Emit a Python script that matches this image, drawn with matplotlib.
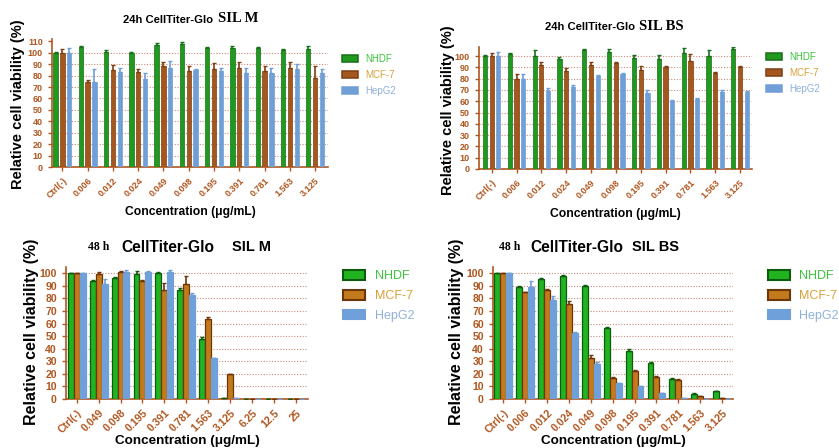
import numpy as np
import matplotlib.pyplot as plt
from matplotlib.patches import Patch

plt.rcParams['font.family'] = ['Liberation Sans', 'DejaVu Sans']

cats_a = ['Ctrl(-)', '0.006', '0.012', '0.024', '0.049', '0.098', '0.195', '0.391', '0.781', '1.563', '3.125']
cats_m48 = ['Ctrl(-)', '0.049', '0.098', '0.195', '0.391', '0.781', '1.563', '3.125', '6.25', '12.5', '25']

# 24h SIL M
nhdf_24m = [100, 105, 101, 100, 107, 108, 104, 104, 104, 102, 103]
nhdf_24m_sd = [1, 1, 1, 1, 1.5, 1, 1, 1.5, 1, 1, 3]
mcf_24m = [100, 74, 85, 83, 88, 84, 86, 87, 84, 87, 78]
mcf_24m_sd = [3, 2, 4, 3, 4, 4, 5, 5, 4, 5, 10]
hep_24m = [100, 74, 83, 77, 87, 85, 84, 82, 82, 86, 82]
hep_24m_sd = [4, 12, 4, 5, 6, 1, 3, 5, 5, 4, 4]

# 24h SIL BS
nhdf_24b = [100, 102, 100, 97, 105, 104, 98, 97, 103, 100, 106]
nhdf_24b_sd = [1, 1, 5, 2, 1, 2, 3, 4, 4, 5, 2]
mcf_24b = [100, 80, 92, 87, 92, 94, 88, 90, 96, 85, 90]
mcf_24b_sd = [3, 4, 3, 2, 3, 1, 3, 1, 6, 1, 1]
hep_24b = [100, 80, 69, 73, 82, 84, 67, 60, 62, 68, 68]
hep_24b_sd = [4, 4, 3, 1, 1, 1, 3, 1, 1, 2, 1]

# 48h SIL M
nhdf_48m = [100, 94, 96, 99.5, 100, 87, 48, 0.5, 0.3, 0.3, 0.3]
nhdf_48m_sd = [0, 1, 1, 2, 1, 1, 1, 0, 0, 0, 0]
mcf_48m = [100, 99.5, 101, 94, 87, 91.5, 64, 19.5, 0.3, 0.3, 0.3]
mcf_48m_sd = [0, 1.5, 1, 1, 5, 6.5, 1.5, 0.5, 0, 0, 0]
hep_48m = [100, 91.5, 101, 101, 101, 83, 32.5, 0.5, 0.3, 0.3, 0.3]
hep_48m_sd = [0, 4, 1.5, 1, 1.5, 1, 0, 0, 0, 0, 0]

# 48h SIL BS
nhdf_48b = [100, 89, 95.5, 97.5, 90, 56.5, 38.5, 28.5, 16, 4, 6]
nhdf_48b_sd = [0, 1, 1, 1, 1, 1, 1, 1, 1, 0.5, 0.5]
mcf_48b = [100, 85, 87, 75.5, 33, 17, 22.5, 17.8, 15, 2, 0.8]
mcf_48b_sd = [0, 0.5, 0.5, 2.5, 2, 0.5, 0.5, 0.8, 0.8, 0.5, 0]
hep_48b = [100, 89, 79, 52.5, 28, 12.5, 10, 4.5, 0.5, 0.3, 0.2]
hep_48b_sd = [0, 4.5, 3, 0.5, 1.5, 0, 0, 0, 0, 0, 0]

labels = ['NHDF', 'MCF-7', 'HepG2']
axcol = '#b0561f'
legtxt = ['#3cc43c', '#d9a03a', '#8fb0dc']

top_style = dict(width=0.17, fill=['#1f9a1f', '#a4581e', '#6f9fd6'], edge=['#176f17', '#7d3f12', '#6f9fd6'], lw=0.5)
bot_style = dict(width=0.27, fill=['#20b420', '#c27a1c', '#6fa0da'], edge=['#0e5a0e', '#6e3508', '#6fa0da'], lw=0.9)


def panel(ax, cats, vals, sds, st, ymax, tsize, tlsize):
    x = np.arange(len(cats))
    offs = [-0.27, 0, 0.27]
    for i in range(3):
        ax.bar(x + offs[i], vals[i], st['width'], color=st['fill'][i],
               edgecolor=st['edge'][i], linewidth=st['lw'], zorder=3)
        ax.errorbar(x + offs[i], vals[i], yerr=[np.zeros(len(cats)), sds[i]], fmt='none',
                    ecolor=st['edge'][i] if i < 2 else '#6f9fd6', elinewidth=1.2, capsize=1.5, zorder=4)
    for g in range(10, 101, 10):
        ax.axhline(g, color='#c98a7a', linestyle=(0, (1, 1.5)), linewidth=0.8, zorder=1)
    ax.set_ylim(0, ymax)
    ax.set_yticks(range(0, 101, 10))
    ax.set_xticks(x)
    ax.set_xticklabels(cats, rotation=45, ha='right', rotation_mode='anchor')
    for s in ['top', 'right']:
        ax.spines[s].set_visible(False)
    for s in ['left', 'bottom']:
        ax.spines[s].set_color(axcol)
        ax.spines[s].set_linewidth(1.2)
    ax.tick_params(colors=axcol, width=1, length=3, labelsize=tlsize)
    for t in ax.get_xticklabels() + ax.get_yticklabels():
        t.set_fontweight('bold')
        t.set_color(axcol)
    ax.set_ylabel('Relative cell viability (%)', fontsize=tsize, fontweight='bold')
    ax.set_xlabel('Concentration (μg/mL)', fontsize=tsize - 1.8, fontweight='bold')


def legend(ax, st, anchor, fsize, hl, hh):
    h = [Patch(facecolor=st['fill'][i], edgecolor=st['edge'][i], linewidth=st['lw'] + 0.6) for i in range(3)]
    lg = ax.legend(h, labels, loc='upper left', bbox_to_anchor=anchor, frameon=False, fontsize=fsize,
                   handlelength=hl, handleheight=hh, labelspacing=0.6)
    for t, c in zip(lg.get_texts(), legtxt):
        t.set_color(c)


fig = plt.figure(figsize=(8.39, 4.48), dpi=100)

ax1 = fig.add_axes([52 / 839, 1 - 167 / 448, 276 / 839, 128 / 448])
panel(ax1, cats_a, [nhdf_24m, mcf_24m, hep_24m], [nhdf_24m_sd, mcf_24m_sd, hep_24m_sd], top_style, 112, 10.5, 6.5)
ax1.set_yticks(range(0, 111, 10))
ax1.set_xlim(-0.41, 10.51)
ax1.yaxis.set_label_coords(-0.098, 0.49)
legend(ax1, top_style, (1.02, 0.95), 7, 1.6, 0.7)

ax2 = fig.add_axes([479 / 839, 1 - 169 / 448, 273 / 839, 122 / 448])
panel(ax2, cats_a, [nhdf_24b, mcf_24b, hep_24b], [nhdf_24b_sd, mcf_24b_sd, hep_24b_sd], top_style, 108, 10.5, 6.5)
ax2.set_xlim(-0.51, 10.48)
ax2.yaxis.set_label_coords(-0.088, 0.48)
legend(ax2, top_style, (1.02, 1.03), 7, 1.6, 0.7)

ax3 = fig.add_axes([66 / 839, 1 - 399 / 448, 242 / 839, 132 / 448])
panel(ax3, cats_m48, [nhdf_48m, mcf_48m, hep_48m], [nhdf_48m_sd, mcf_48m_sd, hep_48m_sd], bot_style, 105, 11.5, 7.6)
ax3.set_xlim(-0.49, 10.56)
ax3.xaxis.set_label_coords(0.5, -0.27)
ax3.yaxis.set_label_coords(-0.11, 0.51)
legend(ax3, bot_style, (1.1, 1.06), 9, 1.7, 0.8)

ax4 = fig.add_axes([493 / 839, 1 - 399 / 448, 240 / 839, 132 / 448])
panel(ax4, cats_a, [nhdf_48b, mcf_48b, hep_48b], [nhdf_48b_sd, mcf_48b_sd, hep_48b_sd], bot_style, 105, 11.5, 7.6)
ax4.set_xlim(-0.47, 10.5)
ax4.xaxis.set_label_coords(0.5, -0.27)
ax4.yaxis.set_label_coords(-0.12, 0.51)
legend(ax4, bot_style, (1.1, 1.06), 9, 1.7, 0.8)

# titles: sans + serif pieces
fig.text(123 / 839, 1 - 20 / 448, '24h CellTiter-Glo', ha='left', va='center', fontsize=8.1, fontweight='bold')
fig.text(218 / 839, 1 - 19 / 448, 'SIL M', ha='left', va='center', fontsize=10.5, fontweight='bold', family='Liberation Serif')
fig.text(545 / 839, 1 - 27 / 448, '24h CellTiter-Glo', ha='left', va='center', fontsize=8.1, fontweight='bold')
fig.text(639 / 839, 1 - 26 / 448, 'SIL BS', ha='left', va='center', fontsize=10.5, fontweight='bold', family='Liberation Serif')

fig.text(88 / 839, 1 - 247 / 448, '48 h', ha='left', va='center', fontsize=8.5, fontweight='bold', family='Liberation Serif')
fig.text(121 / 839, 1 - 247 / 448, 'CellTiter-Glo', ha='left', va='center', fontsize=11.2, fontweight='bold')
fig.text(232 / 839, 1 - 247 / 448, 'SIL M', ha='left', va='center', fontsize=10.5, fontweight='bold')
fig.text(499 / 839, 1 - 247 / 448, '48 h', ha='left', va='center', fontsize=8.5, fontweight='bold', family='Liberation Serif')
fig.text(530 / 839, 1 - 247 / 448, 'CellTiter-Glo', ha='left', va='center', fontsize=11.2, fontweight='bold')
fig.text(632 / 839, 1 - 247 / 448, 'SIL BS', ha='left', va='center', fontsize=10.5, fontweight='bold')

fig.savefig('out.png', dpi=100)
